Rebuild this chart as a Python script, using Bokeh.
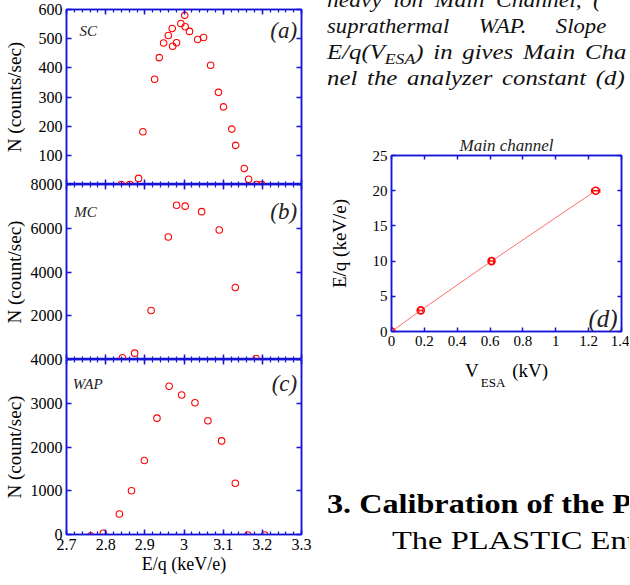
from bokeh.plotting import figure
from bokeh.models import (LinearAxis, Range1d, SingleIntervalTicker, FixedTicker, CustomJSTickFormatter,
                          Div, Label, Whisker, ColumnDataSource, TeeHead)
from bokeh.layouts import row, column
from bokeh.embed import file_html
from bokeh.resources import INLINE

# ---------------- data ----------------
sc_x = [2.840, 2.862, 2.884, 2.895, 2.925, 2.937, 2.948, 2.960, 2.970, 2.971, 2.981, 2.992, 3.002,
        3.003, 3.014, 3.035, 3.050, 3.068, 3.088, 3.101, 3.122, 3.132, 3.154, 3.165, 3.186, 3.198]
sc_y = [0, 0, 21, 181, 361, 435, 485, 511, 535, 474, 486, 552, 580,
        541, 525, 497, 504, 409, 316, 266, 190, 134, 55, 18, 0, 0]

mc_x = [2.843, 2.874, 2.916, 2.960, 2.981, 3.003, 3.045, 3.090, 3.131, 3.184]
mc_y = [80, 290, 2240, 5600, 7050, 7010, 6760, 5920, 3290, 45]

wap_x = [2.762, 2.794, 2.835, 2.866, 2.899, 2.931, 2.962, 2.994, 3.028, 3.061, 3.096, 3.131, 3.163, 3.206]
wap_y = [-30, 30, 470, 1000, 1690, 2660, 3390, 3190, 3010, 2600, 2140, 1170, -10, -10]

d_v = [0.0, 0.178, 0.609, 1.243]       # V_ESA (kV)
d_eq = [0.0, 3.0, 10.0, 20.0]          # E/q (keV/e)
d_verr = [0.0, 0.012, 0.012, 0.025]

eq_ticks = [2.7, 2.8, 2.9, 3.0, 3.1, 3.2, 3.3]
vesa_ticks = [0.0, 0.2, 0.4, 0.6, 0.8, 1.0, 1.2, 1.4]
panel_names = ["SC", "MC", "WAP"]
panel_letters = ["(a)", "(b)", "(c)", "(d)"]
panel_ylabels = ["N (counts/sec)", "N (count/sec)", "N (count/sec)"]
panel_ymax = [600, 8000, 4000]
panel_ystep = [100, 2000, 1000]

BLUE = "#1515d8"
RED = "#ff0000"
SERIF = "Liberation Serif"

FMT1 = "var s = tick.toFixed(1); if (s.slice(-2) == '.0') { s = s.slice(0, -2); } return s;"
FMT0 = "return tick.toFixed(0);"
FMT0_NOZERO = "return Math.abs(tick) < 1e-9 ? '' : tick.toFixed(0);"
BLANK = "return '';"

eq_minor = [round(eq_ticks[0] + 0.02 * k, 3) for k in range(31)]


def style_axis(ax, ticker, labels, fmt=FMT1, size="16px", tin=5, minor_in=3, tout=0, minor_out=0):
    ax.ticker = ticker
    ax.axis_line_color = BLUE
    ax.axis_line_width = 1.5
    ax.major_tick_line_color = BLUE
    ax.major_tick_line_width = 1.5
    ax.minor_tick_line_color = BLUE
    ax.minor_tick_line_width = 1.2
    ax.major_tick_in = tin
    ax.major_tick_out = tout
    ax.minor_tick_in = minor_in
    ax.minor_tick_out = minor_out
    ax.axis_label_text_font = SERIF
    ax.axis_label_text_font_style = "normal"
    ax.axis_label_text_color = "black"
    if labels:
        ax.formatter = CustomJSTickFormatter(code=fmt)
        ax.major_label_text_font = SERIF
        ax.major_label_text_font_size = size
        ax.major_label_text_color = "black"
        ax.major_label_standoff = 4
    else:
        ax.formatter = CustomJSTickFormatter(code=BLANK)
        ax.major_label_text_font_size = "0px"
        ax.major_label_standoff = 0


def make_panel(i, xs, ys, top_margin, bottom_border, first, last, ylab_standoff, name_off, name_x):
    ymax = panel_ymax[i]
    p = figure(frame_width=235, frame_height=175,
               x_range=Range1d(eq_ticks[0], eq_ticks[-1]), y_range=Range1d(0, ymax),
               x_axis_location=None, y_axis_location=None,
               output_backend="svg", toolbar_location=None,
               min_border_left=59, min_border_right=18, min_border_top=9,
               min_border_bottom=bottom_border, margin=(top_margin, 0, 0, 0))
    p.border_fill_color = None
    p.background_fill_color = None
    p.outline_line_color = BLUE
    p.outline_line_width = 1.5
    p.grid.visible = False

    xt = lambda: FixedTicker(ticks=eq_ticks, minor_ticks=eq_minor)
    yt = lambda: SingleIntervalTicker(interval=panel_ystep[i], num_minor_ticks=0)

    if last:
        bx = LinearAxis()
        style_axis(bx, xt(), True, FMT1, "16px")
        bx.axis_label = "E/q (keV/e)"
        bx.axis_label_text_font_size = "18px"
        bx.axis_label_standoff = 1
        p.add_layout(bx, "below")
    ax_ = LinearAxis()
    if first:
        style_axis(ax_, xt(), False)
    else:
        # shared boundary with the panel above: ticks point into both panels
        style_axis(ax_, xt(), False, tout=5, minor_out=3)
    p.add_layout(ax_, "above")
    ly = LinearAxis()
    # the bottom "0" of the upper panels is hidden behind the next panel's top label
    style_axis(ly, yt(), True, FMT0 if last else FMT0_NOZERO, "16px")
    ly.axis_label = panel_ylabels[i]
    ly.axis_label_text_font_size = "19px"
    ly.axis_label_standoff = ylab_standoff
    p.add_layout(ly, "left")
    ry = LinearAxis()
    style_axis(ry, yt(), False)
    p.add_layout(ry, "right")

    p.scatter(xs, ys, marker="circle", size=6.5, fill_color=None, line_color=RED, line_width=1.1)

    ytxt = ymax * (1 - name_off / 175.0)
    p.add_layout(Label(x=name_x, y=ytxt, text=panel_names[i], text_font=SERIF,
                       text_font_style="italic", text_font_size="15px", text_baseline="alphabetic",
                       text_color="#222222"))
    p.add_layout(Label(x=3.289, y=ytxt, text=panel_letters[i], text_font=SERIF,
                       text_font_style="italic", text_font_size="23px", text_align="right",
                       text_baseline="alphabetic", text_color="#222222"))
    return p


fa = make_panel(0, sc_x, sc_y, 0, 0, True, False, 11, 21, 2.733)
fb = make_panel(1, mc_x, mc_y, -9, 0, False, False, 3, 27, 2.72)
fc = make_panel(2, wap_x, wap_y, -9, 43, False, True, 3, 24, 2.716)

# ---------------- panel (d) ----------------
fd = figure(frame_width=230, frame_height=176,
            x_range=Range1d(vesa_ticks[0], vesa_ticks[-1]), y_range=Range1d(0, 25),
            x_axis_location=None, y_axis_location=None,
            output_backend="svg", toolbar_location=None,
            min_border_left=72, min_border_right=8, min_border_top=40, min_border_bottom=24,
            margin=(0, 0, 0, 0))
fd.border_fill_color = None
fd.background_fill_color = None
fd.outline_line_color = BLUE
fd.outline_line_width = 1.5
fd.grid.visible = False
fd.title.text = "Main channel"
fd.title.align = "center"
fd.title.text_font = SERIF
fd.title.text_font_style = "italic"
fd.title.text_font_size = "17px"
fd.title.text_color = "#222222"
fd.title.standoff = 2

dbx = LinearAxis()
style_axis(dbx, FixedTicker(ticks=vesa_ticks, minor_ticks=[]), True, FMT1, "15px", tin=4)
fd.add_layout(dbx, "below")
dax = LinearAxis()
style_axis(dax, FixedTicker(ticks=vesa_ticks, minor_ticks=[]), False, tin=4)
fd.add_layout(dax, "above")
dly = LinearAxis()
style_axis(dly, SingleIntervalTicker(interval=5, num_minor_ticks=0), True, FMT0, "15px", tin=4)
dly.axis_label = "E/q (keV/e)"
dly.axis_label_text_font_size = "19px"
dly.axis_label_standoff = 20
fd.add_layout(dly, "left")
dry = LinearAxis()
style_axis(dry, SingleIntervalTicker(interval=5, num_minor_ticks=0), False, tin=4)
fd.add_layout(dry, "right")

src = ColumnDataSource(dict(x=d_v, y=d_eq,
                            lo=[v - e for v, e in zip(d_v, d_verr)],
                            hi=[v + e for v, e in zip(d_v, d_verr)]))
fd.line("x", "y", source=src, line_color="#ff7070", line_width=1)
fd.add_layout(Whisker(base="y", lower="lo", upper="hi", dimension="width", source=src,
                      line_color=RED, line_width=1.5,
                      lower_head=TeeHead(size=4, line_color=RED, line_width=1.2),
                      upper_head=TeeHead(size=4, line_color=RED, line_width=1.2)))
fd.scatter("x", "y", source=src, marker="circle", size=7, fill_color=None,
           line_color=RED, line_width=1.6)
fd.add_layout(Label(x=1.376, y=1.85, text=panel_letters[3], text_font=SERIF, text_font_style="italic",
                    text_font_size="25px", text_align="right", text_baseline="alphabetic",
                    text_color="#222222"))

SERIF_CSS = "font-family: 'Liberation Serif', 'Times New Roman', serif;"

# x-axis title of panel (d): V_ESA (kV)
vesa_div = Div(
    text=("<div style=\"" + SERIF_CSS + " font-size:19px; line-height:26px; color:#000;"
          " padding-top:3px; padding-left:146px; white-space:nowrap;\">"
          "V<span style='font-size:13px; position:relative; top:10px; margin:0 7px 0 2px;'>ESA</span>(kV)</div>"),
    width=310, height=30, margin=(0, 0, 0, 0))

# ---------------- surrounding paper text ----------------
top_html = (
    "<div style=\"" + SERIF_CSS + " font-style:italic; font-size:21px; line-height:26px;"
    " color:#111; white-space:nowrap; margin-top:-13px; padding-left:8px;\">"
    "<div style='word-spacing:5px; transform:scaleX(1.12); transform-origin:left;'>heavy ion Main Channel, (</div>"
    "<div style='word-spacing:22px; transform:scaleX(1.08); transform-origin:left;'>suprathermal WAP. Slope</div>"
    "<div style='word-spacing:3px; transform:scaleX(1.18); transform-origin:left;'>E/q(V<sub style='font-size:15px; line-height:0; vertical-align:-5px'>ESA</sub>) in gives Main Cha</div>"
    "<div style='word-spacing:3px; transform:scaleX(1.18); transform-origin:left;'>nel the analyzer constant (d)</div>"
    "</div>"
)
top_div = Div(text=top_html, width=310, height=115, margin=(0, 0, 0, 0),
              styles={"overflow": "hidden", "font-family": "Liberation Serif"})

bottom_html = (
    "<div style=\"" + SERIF_CSS + " color:#000; white-space:nowrap; padding-top:100px; padding-left:8px;\">"
    "<div style='font-weight:bold; font-size:28px; line-height:37px; transform:scaleX(1.15); transform-origin:left;'>3. Calibration of the P</div>"
    "<div style='font-size:26px; line-height:37px; padding-left:52px; transform:scaleX(1.25); transform-origin:left;'>The PLASTIC Ent</div>"
    "</div>"
)
bottom_div = Div(text=bottom_html, width=310, height=192, margin=(0, 0, 0, 0),
                 styles={"overflow": "hidden", "font-family": "Liberation Serif"})

left = column(fa, fb, fc, spacing=0)
right = column(top_div, fd, vesa_div, bottom_div, spacing=0)
layout = row(left, right, spacing=0)

open("out.html", "w").write(file_html(layout, INLINE))
